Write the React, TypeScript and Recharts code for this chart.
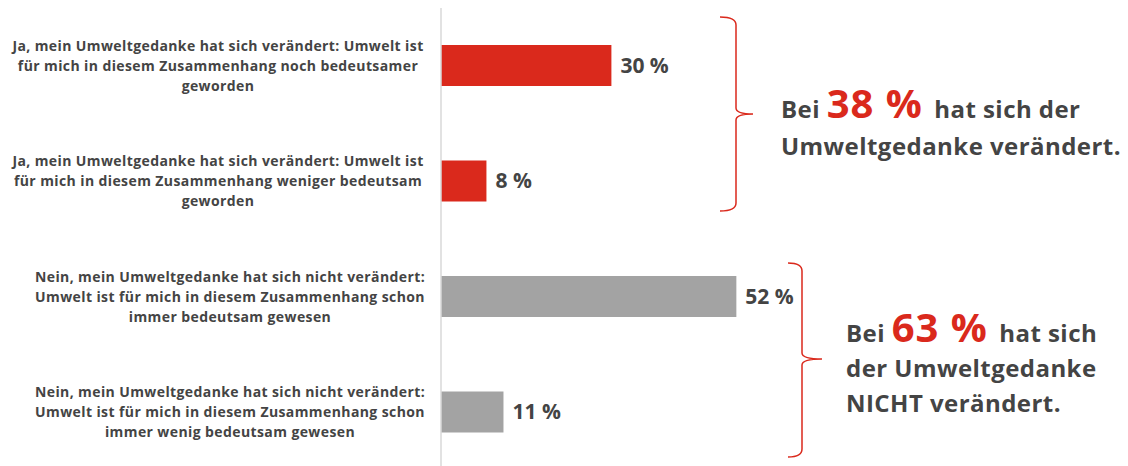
import { Bar, BarChart, Cell, LabelList, XAxis, YAxis } from "recharts"

const categories = [
  "Ja, mein Umweltgedanke hat sich verändert: Umwelt ist\nfür mich in diesem Zusammenhang noch bedeutsamer\ngeworden",
  "Ja, mein Umweltgedanke hat sich verändert: Umwelt ist\nfür mich in diesem Zusammenhang weniger bedeutsam\ngeworden",
  "Nein, mein Umweltgedanke hat sich nicht verändert:\nUmwelt ist für mich in diesem Zusammenhang schon\nimmer bedeutsam gewesen",
  "Nein, mein Umweltgedanke hat sich nicht verändert:\nUmwelt ist für mich in diesem Zusammenhang schon\nimmer wenig bedeutsam gewesen",
]
const values = [30, 8, 52, 11]
const changed = ["yes", "yes", "no", "no"]
const summaryValues = [38, 63]

const RED = "#da291c"
const GRAY = "#a3a3a3"
const TEXT = "#444444"
const FONT = "'Open Sans', sans-serif"

const chartData = categories.map((c, i) => ({ label: c, value: values[i], changed: changed[i] }))

function CategoryTick({ y, payload, index }: any) {
  const lines = String(payload.value).split("\n")
  const cx = index < 2 ? 218 : 230
  const lh = 20
  const start = y - ((lines.length - 1) * lh) / 2
  return (
    <text textAnchor="middle" fill={TEXT} fontSize={14} fontWeight={700} fontFamily={FONT} letterSpacing={0.4}>
      {lines.map((l, i) => (
        <tspan key={i} x={cx} y={start + i * lh} dy="0.35em">{l}</tspan>
      ))}
    </text>
  )
}

function Brace({ x0, x1, xp, top, mid, bottom }: { x0: number; x1: number; xp: number; top: number; mid: number; bottom: number }) {
  const d = `M${x0},${top} Q${x1},${top} ${x1},${top + 8} L${x1},${mid - 6} Q${x1},${mid} ${xp},${mid} Q${x1},${mid} ${x1},${mid + 6} L${x1},${bottom - 8} Q${x1},${bottom} ${x0},${bottom}`
  return <path d={d} fill="none" stroke={RED} strokeWidth={1.5} />
}

export default function App() {
  return (
    <div style={{ position: "absolute", left: 0, top: 0, width: 1128, height: 466, overflow: "hidden", background: "#fff" }}>
      <BarChart
        width={1128}
        height={470}
        data={chartData}
        layout="vertical"
        margin={{ top: 8, right: 119, bottom: 0, left: 0 }}
      >
        <XAxis type="number" domain={[0, 100]} hide />
        <YAxis
          type="category"
          dataKey="label"
          width={441}
          axisLine={{ stroke: "#d9d9d9", strokeWidth: 1.5 }}
          tickLine={false}
          tick={<CategoryTick />}
          interval={0}
        />
        <Bar dataKey="value" barSize={41} isAnimationActive={false}>
          {chartData.map((d, i) => (
            <Cell key={i} fill={d.changed === "yes" ? RED : GRAY} />
          ))}
          <LabelList
            dataKey="value"
            position="right"
            offset={9}
            formatter={(v: any) => `${v} %`}
            fill={TEXT}
            fontSize={21}
            fontWeight={700}
            fontFamily={FONT}
          />
        </Bar>
      </BarChart>
      <svg width={1128} height={466} style={{ position: "absolute", left: 0, top: 0, pointerEvents: "none" }}>
        <Brace x0={720} x1={736} xp={753} top={17} mid={114} bottom={211} />
        <Brace x0={788} x1={802} xp={822} top={263} mid={359} bottom={457} />
        <text fontFamily={FONT} fontWeight={700} fill={TEXT} fontSize={24} letterSpacing={0.45}>
          <tspan x={781} y={118}>Bei </tspan>
          <tspan fill={RED} fontSize={40} letterSpacing={1}>{summaryValues[0]} % </tspan>
          <tspan>hat sich der</tspan>
          <tspan x={781} y={155}>Umweltgedanke verändert.</tspan>
        </text>
        <text fontFamily={FONT} fontWeight={700} fill={TEXT} fontSize={24} letterSpacing={0.45}>
          <tspan x={846} y={342}>Bei </tspan>
          <tspan fill={RED} fontSize={40} letterSpacing={1}>{summaryValues[1]} % </tspan>
          <tspan>hat sich</tspan>
          <tspan x={846} y={377}>der Umweltgedanke</tspan>
          <tspan x={846} y={412}>NICHT verändert.</tspan>
        </text>
      </svg>
    </div>
  )
}
